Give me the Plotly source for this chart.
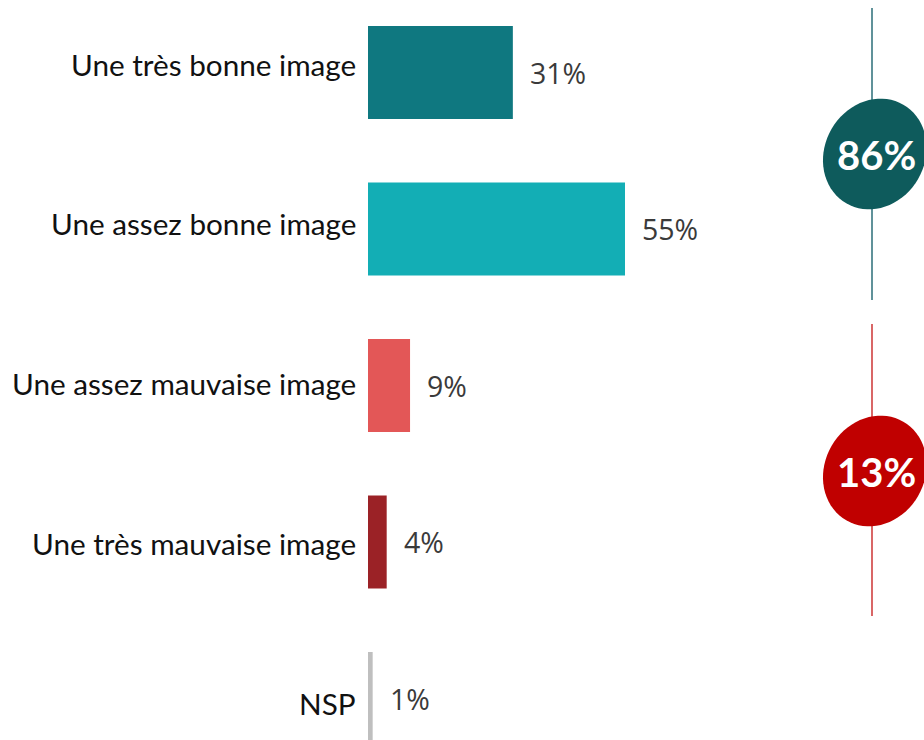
import math
import plotly.graph_objects as go

categories = ["Une très bonne image", "Une assez bonne image", "Une assez mauvaise image",
              "Une très mauvaise image", "NSP"]
values = [31, 55, 9, 4, 1]
bar_colors = ["#0f7880", "#13aeb5", "#e35757", "#9b2226", "#bfbfbf"]

positive_total = values[0] + values[1]
negative_total = values[2] + values[3]

W, H = 924, 740
L = 368                     # left margin in px (bar origin)
px_per_unit = 257 / 55.0
x_max = (W - L) / px_per_unit

cat_step = 156.5
first_center = 72.5
y_top = -first_center / cat_step
y_bottom = y_top + H / cat_step

# vertical offset (px, up positive) of each category label vs its bar centre
label_yshift = [8.5, 5.5, 2.5, -1.5, -4.5]

fig = go.Figure()
fig.add_trace(go.Bar(
    x=values, y=categories, orientation="h",
    marker=dict(color=bar_colors, line=dict(width=0)),
    width=93 / cat_step, hoverinfo="skip",
))

for v, c, ys in zip(values, categories, label_yshift):
    fig.add_annotation(x=v, y=c, xref="x", yref="y", text=f"{v}%",
                       showarrow=False, xanchor="left", yanchor="middle",
                       xshift=15, font=dict(family="Open Sans", size=28.5, color="#3a3a3a"))
    fig.add_annotation(x=0, y=c, xref="x", yref="y", text=c,
                       showarrow=False, xanchor="right", yanchor="middle",
                       xshift=-10, yshift=ys,
                       font=dict(family="Lato", size=29.7, color="#111111"))

def px2paper_x(px):
    return (px - L) / (W - L)

def px2paper_y(py):
    return 1 - py / H

# vertical lines
fig.add_shape(type="line", xref="paper", yref="paper",
              x0=px2paper_x(872), x1=px2paper_x(872), y0=px2paper_y(8), y1=px2paper_y(300),
              line=dict(color="#2b6e78", width=1.5))
fig.add_shape(type="line", xref="paper", yref="paper",
              x0=px2paper_x(872), x1=px2paper_x(872), y0=px2paper_y(324), y1=px2paper_y(616),
              line=dict(color="#c00000", width=1.2))

# slightly tilted ellipses (badges), major axis leaning towards upper-right
def blob_path(cx, cy, a=57.0, b=50.0, tilt_deg=30.0, n=72):
    th = math.radians(tilt_deg)
    pts = []
    for i in range(n):
        t = 2 * math.pi * i / n
        ux, uy = b * math.cos(t), a * math.sin(t)
        x = cx + ux * math.cos(th) - uy * math.sin(th)
        y = cy + uy * math.cos(th) + ux * math.sin(th)
        pts.append((px2paper_x(x), px2paper_y(y)))
    return "M " + " L ".join(f"{x:.5f},{y:.5f}" for x, y in pts) + " Z"

for (cx, cy, col) in [(874.8, 154, "#0e5b5c"), (874.8, 471, "#c00000")]:
    fig.add_shape(type="path", xref="paper", yref="paper", path=blob_path(cx, cy),
                  fillcolor=col, line=dict(width=0))

for total, cy in [(positive_total, 155), (negative_total, 472)]:
    fig.add_annotation(x=px2paper_x(876), y=px2paper_y(cy), xref="paper", yref="paper",
                       xanchor="center", yanchor="middle",
                       text=f"<b>{total}%</b>", showarrow=False,
                       font=dict(family="Lato", size=40, color="white"))

fig.update_layout(
    width=W, height=H,
    margin=dict(l=L, r=0, t=0, b=0),
    plot_bgcolor="white", paper_bgcolor="white",
    showlegend=False,
    xaxis=dict(range=[0, x_max], visible=False, fixedrange=True),
    yaxis=dict(range=[y_bottom, y_top], type="category", showgrid=False,
               showline=False, zeroline=False, ticks="", showticklabels=False,
               fixedrange=True),
)

fig.write_html("out.html", config={"displayModeBar": False},
               post_script="document.body.style.margin='0';")
